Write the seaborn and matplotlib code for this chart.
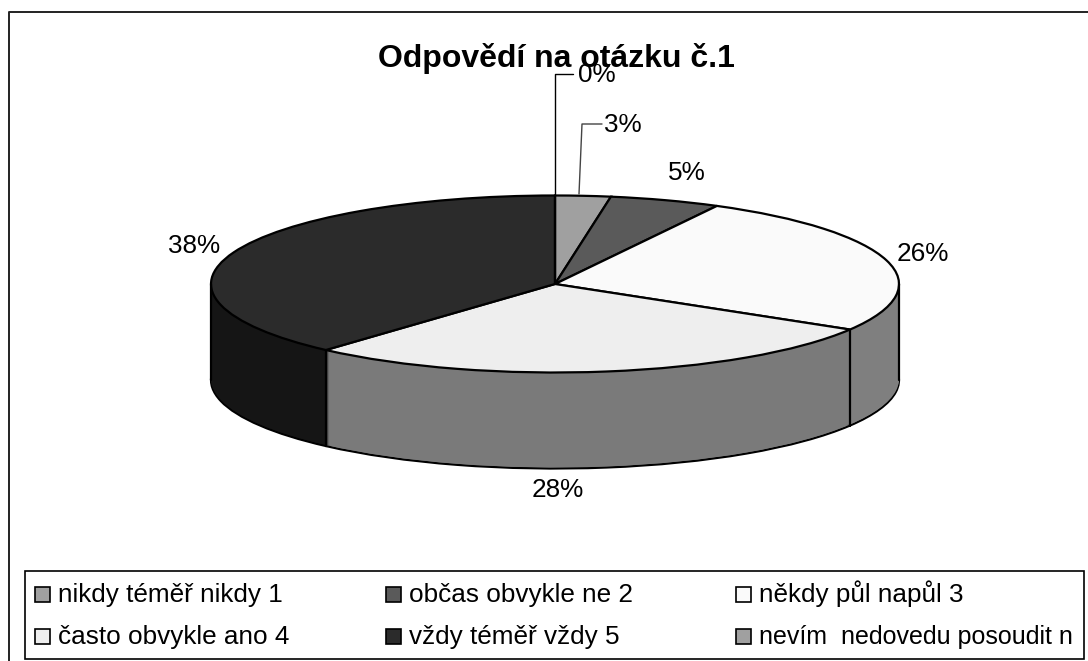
#!/usr/bin/env python3
import numpy as np
import matplotlib
matplotlib.use('Agg')
import matplotlib.pyplot as plt
from matplotlib.patches import Rectangle
import seaborn as sns

# answers, in slice order
labels = ['nikdy téměř nikdy 1', 'občas obvykle ne 2', 'někdy půl napůl 3',
          'často obvykle ano 4', 'vždy téměř vždy 5', 'nevím  nedovedu posoudit n']
values = [2.6, 5.2, 25.8, 28.0, 38.4, 0.0]

top_colors = ['#a0a0a0', '#5a5a5a', '#fafafa', '#eeeeee', '#2b2b2b', '#a0a0a0']
side_colors = ['#505050', '#2d2d2d', '#7f7f7f', '#7a7a7a', '#151515', '#505050']

label_pos = [(623, 125), (687, 173), (923, 254), (558, 490), (194, 246), (597, 75)]
legend_pos = [(35, 602), (386, 602), (736, 602), (35, 644), (386, 644), (736, 644)]
legend_sizes = [18.8, 18.8, 18.8, 18.8, 18.8, 18.0]

CX, CY, RX, RY = 555, 284, 344, 88.5
DEPTH = 96

sns.set_theme(style='white')
plt.rcParams['font.family'] = ['Liberation Sans', 'DejaVu Sans']

fig = plt.figure(figsize=(10.88, 6.61), dpi=100, facecolor='white')

# pie axes: one unit is one radius of the ellipse
ax = fig.add_axes([0, 0, 1, 1])


def pie_layer(colors, dy, edge):
    wedgeprops = dict(linewidth=1.6 if edge else 0, edgecolor='black' if edge else 'none')
    ax.pie(values, colors=sns.color_palette(colors), startangle=90, counterclock=False,
           center=(0, -dy / RY), radius=1, wedgeprops=wedgeprops)


# the wall is the same pie stacked downwards
pie_layer(side_colors, DEPTH, True)
for dy in np.arange(DEPTH - 1, 0, -1):
    pie_layer(side_colors, dy, False)
pie_layer(top_colors, 0, True)

ax.set_aspect('auto')
ax.set_xlim(-CX / RX, (1088 - CX) / RX)
ax.set_ylim(-(661 - CY) / RY, CY / RY)
ax.set_axis_off()

# vertical edges on the wall, at the visible slice borders and the ellipse ends
angles = 90 - np.cumsum(values) * 3.6
for a in angles:
    if np.sin(np.radians(a)) < 0:
        x, y = np.cos(np.radians(a)), np.sin(np.radians(a))
        ax.plot([x, x], [y, y - DEPTH / RY], color='black', lw=1.6, zorder=10)
for x in (-1, 1):
    ax.plot([x, x], [0, -DEPTH / RY], color='black', lw=1.6, zorder=10)

# overlay in picture pixels for the texts and frames
ov = fig.add_axes([0, 0, 1, 1], facecolor='none')
ov.set_xlim(0, 1088)
ov.set_ylim(661, 0)
ov.set_axis_off()

# the outer frame only shows on its top and left side
ov.plot([9, 9, 1088], [661, 12, 12], color='#222222', lw=1.4)
box = Rectangle((25, 571), 1059, 88, fill=False, ec='black', lw=1.2)
ov.add_patch(box)

ov.text(556, 58, 'Odpovědí na otázku č.1', ha='center', va='center',
        fontsize=23, fontweight='bold', color='black')

for v, (x, y) in zip(values, label_pos):
    ov.text(x, y, f'{v:.0f}%', ha='center', va='center', fontsize=18.8, color='black')

# leader lines for the two narrow slices
ov.plot([555, 555, 573], [194, 74, 74], color='black', lw=1)
ov.plot([579, 582, 602], [194, 124, 124], color='#444444', lw=1)

for name, c, size, (x, y) in zip(labels, top_colors, legend_sizes, legend_pos):
    ov.add_patch(Rectangle((x, y - 15), 15, 15, fc=c, ec='black', lw=1.2))
    ov.text(x + 23, y, name, ha='left', va='baseline', fontsize=size, color='black')

fig.savefig('out.png', dpi=100)
plt.close(fig)
